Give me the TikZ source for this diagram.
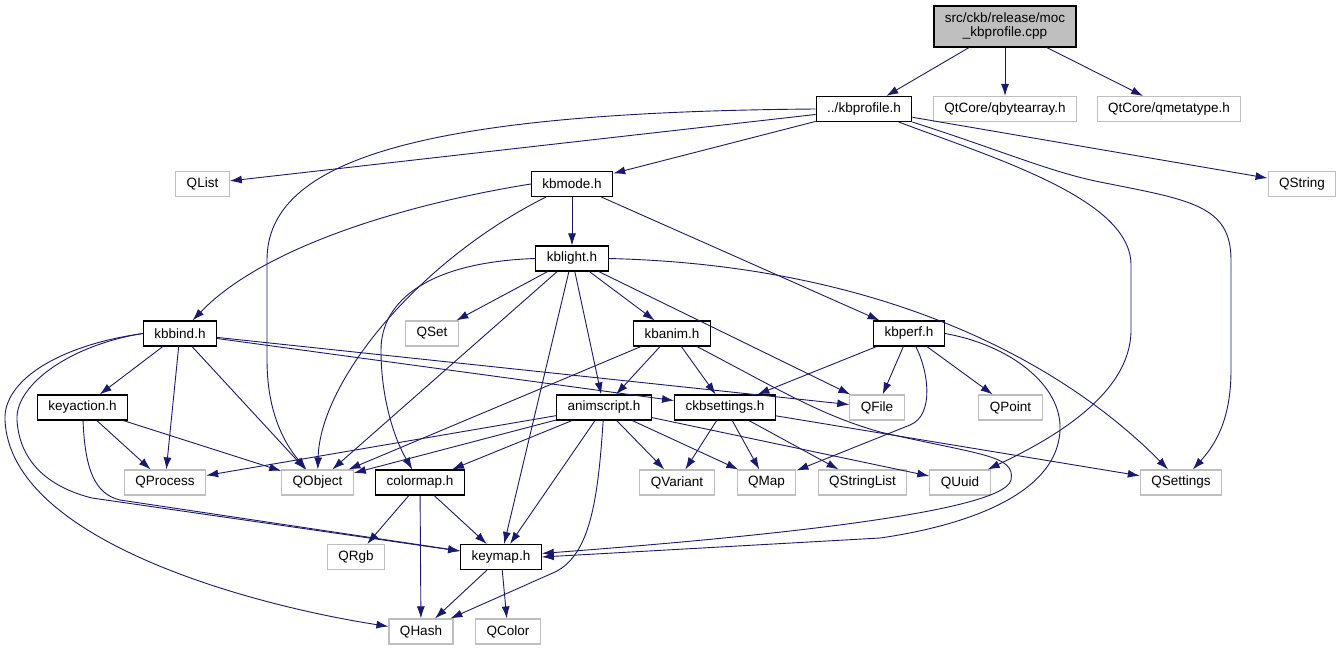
\documentclass[tikz,border=0pt]{standalone}
\usepackage{fontspec}
\setmainfont{Liberation Sans}
\usetikzlibrary{arrows.meta,positioning}
\definecolor{edgeblue}{RGB}{25,25,112}
\definecolor{grey75}{RGB}{191,191,191}
\tikzset{source/.style={rectangle, draw=black, fill=grey75, line width=1.1pt, align=center, inner xsep=11pt, inner ysep=0pt,
 minimum height=41pt}}
\tikzset{header/.style={rectangle, draw=black, fill=white, line width=1.1pt, inner xsep=11pt, inner ysep=0pt,
 minimum height=25pt}}
\tikzset{system/.style={rectangle, draw=grey75, fill=white, line width=1.1pt, inner xsep=11pt, inner ysep=0pt,
 minimum height=25pt}}
\tikzset{line/.style={draw=edgeblue, line width=0.9pt, -{Latex[length=12pt,width=8pt]}}}
\begin{document}
\begin{tikzpicture}[x=1pt, y=-1pt, font=\fontsize{13.5}{14}\selectfont]
        \useasboundingbox (0,0) rectangle (1341,651);
        \node[source]   (moc) at (1005,26.5) {src/ckb/release/moc\\\_kbprofile.cpp};
        \node[header]   (kbprofile) at (864,109) {../kbprofile.h};
        \node[system]   (qbytearray) at (1005,109) {QtCore/qbytearray.h};
        \node[system]   (qmetatype) at (1169,109) {QtCore/qmetatype.h};
        \node[system]   (qlist) at (202.5,184) {QList};
        \node[header]   (kbmode) at (572,184) {kbmode.h};
        \node[system]   (qstring) at (1302,184) {QString};
        \node[header]   (kblight) at (572,258.5) {kblight.h};
        \node[header]   (kbbind) at (180,333.5) {kbbind.h};
        \node[system]   (qset) at (432,333.5) {QSet};
        \node[header]   (kbanim) at (672,333.5) {kbanim.h};
        \node[header]   (kbperf) at (909,333.5) {kbperf.h};
        \node[header]   (keyaction) at (82.5,407.5) {keyaction.h};
        \node[header]   (animscript) at (604,407.5) {animscript.h};
        \node[header]   (ckbsettings) at (725,407.5) {ckbsettings.h};
        \node[system]   (qfile) at (877,407.5) {QFile};
        \node[system]   (qpoint) at (1010.5,407.5) {QPoint};
        \node[system]   (qprocess) at (165,482.5) {QProcess};
        \node[system]   (qobject) at (317.5,482.5) {QObject};
        \node[header]   (colormap) at (420,482.5) {colormap.h};
        \node[system]   (qvariant) at (677,482.5) {QVariant};
        \node[system]   (qmap) at (766.5,482.5) {QMap};
        \node[system]   (qstringlist) at (862.5,482.5) {QStringList};
        \node[system]   (quuid) at (960,482.5) {QUuid};
        \node[system]   (qsettings) at (1181,482.5) {QSettings};
        \node[system]   (qrgb) at (356,557) {QRgb};
        \node[header]   (keymap) at (501,557) {keymap.h};
        \node[system]   (qhash) at (421,631.5) {QHash};
        \node[system]   (qcolor) at (508,631.5) {QColor};

        \path[line] (moc) --          (kbprofile);
        \path[line] (moc) --          (qbytearray);
        \path[line] (moc) --          (qmetatype);

        \path[line] (kbprofile) --          (qlist);
        \path[line] (kbprofile) --          (kbmode);
        \path[line] (kbprofile) --          (qstring);
        \path[line] (kbprofile.west) .. controls (420,112) and (267,160) .. (267,260) -- (267,360) .. controls (267,420) and (290,450) .. (qobject);
        \path[line] (kbprofile) .. controls (1000,160) and (1131,200) .. (1131,265) -- (1131,330) .. controls (1131,395) and (1050,440) .. (quuid);
        \path[line] (kbprofile.south east) .. controls (1000,150) and (1050,172) .. (1100,182) .. controls (1190,200) and (1231,205) .. (1231,260) -- (1231,370) .. controls (1231,420) and (1215,445) .. (qsettings);

        \path[line] (kbmode) --          (kblight);
        \path[line] (kbmode) --          (kbperf);
        \path[line] (kbmode.west) .. controls (430,200) and (270,240) .. (kbbind);
        \path[line] (kbmode) .. controls (420,260) and (320,380) .. (qobject);

        \path[line] (kblight) --          (qset);
        \path[line] (kblight) --          (qobject);
        \path[line] (kblight) --          (kbanim);
        \path[line] (kblight) --          (animscript);
        \path[line] (kblight) --          (keymap);
        \path[line] (kblight) --          (qfile);
        \path[line] (kblight.west) .. controls (430,262) and (381,300) .. (381,350) .. controls (381,400) and (395,440) .. (colormap);
        \path[line] (kblight.east) .. controls (880,265) and (1060,360) .. (qsettings);

        \path[line] (kbbind) --          (keyaction);
        \path[line] (kbbind) --          (qprocess);
        \path[line] (kbbind) --          (qobject);
        \path[line] (kbbind) --          (qfile);
        \path[line] (kbbind) --          (ckbsettings);
        \path[line] (kbbind.west) .. controls (60,345) and (3,380) .. (5,420) .. controls (10,540) and (250,605) .. (qhash);
        \path[line] (kbbind.west) .. controls (70,345) and (15,385) .. (17,420) .. controls (20,470) and (60,490) .. (92,498) -- (keymap);

        \path[line] (keyaction) --          (qprocess);
        \path[line] (keyaction) --          (qobject);
        \path[line] (keyaction) .. controls (85,470) and (95,494) .. (120,500) -- (keymap);

        \path[line] (kbanim) --          (qobject);
        \path[line] (kbanim) --          (animscript);
        \path[line] (kbanim) --          (ckbsettings);
        \path[line] (kbanim) .. controls (780,390) and (820,415) .. (880,432) .. controls (980,455) and (1016,455) .. (1011,480) .. controls (1003,515) and (720,540) .. (keymap.5);

        \path[line] (kbperf) --          (ckbsettings);
        \path[line] (kbperf) --          (qfile);
        \path[line] (kbperf) --          (qpoint);
        \path[line] (kbperf) .. controls (928,370) and (935,415) .. (910,425) -- (qmap);
        \path[line] (kbperf.east) .. controls (1010,345) and (1062,385) .. (1060,430) .. controls (1057,500) and (950,528) .. (880,538) -- (keymap.east);

        \path[line] (ckbsettings) --          (qvariant);
        \path[line] (ckbsettings) --          (qmap);
        \path[line] (ckbsettings) --          (qstringlist);
        \path[line] (ckbsettings) --          (qsettings);

        \path[line] (animscript) --          (qprocess);
        \path[line] (animscript) --          (qobject);
        \path[line] (animscript) --          (colormap);
        \path[line] (animscript) --          (keymap);
        \path[line] (animscript) --          (qvariant);
        \path[line] (animscript) --          (qmap);
        \path[line] (animscript) --          (quuid);
        \path[line] (animscript) .. controls (598,500) and (590,555) .. (555,572) -- (qhash);

        \path[line] (colormap) --          (qrgb);
        \path[line] (colormap) --          (qhash);
        \path[line] (colormap) --          (keymap);

        \path[line] (keymap) --          (qhash);
        \path[line] (keymap) --          (qcolor);

     \end{tikzpicture}
\end{document}
